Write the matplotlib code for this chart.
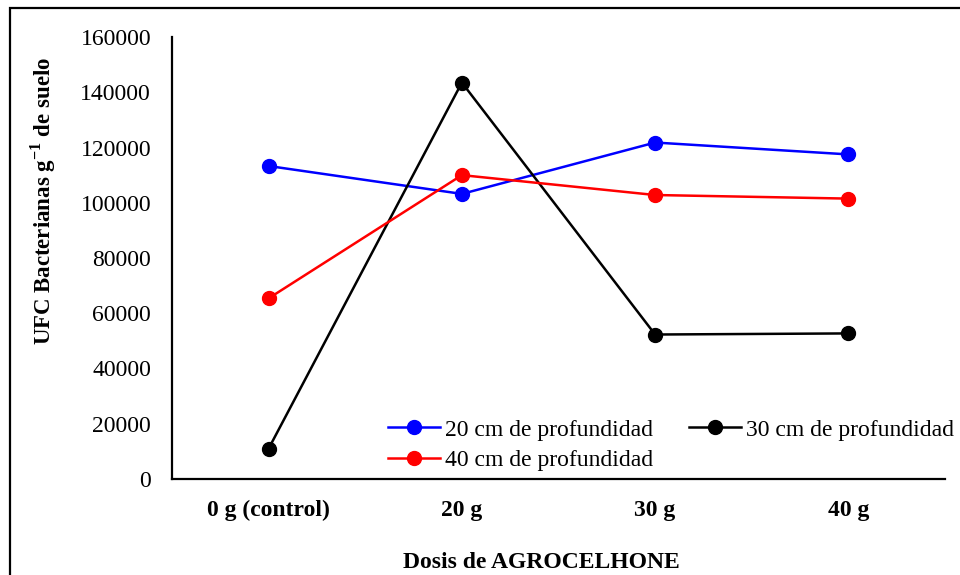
import numpy as np
import matplotlib
matplotlib.use("Agg")
import matplotlib.pyplot as plt

plt.rcParams['font.family'] = ['Liberation Serif', 'DejaVu Serif']
plt.rcParams['mathtext.fontset'] = 'custom'
plt.rcParams['mathtext.rm'] = 'Liberation Serif'
plt.rcParams['mathtext.bf'] = 'Liberation Serif:bold'

dosis = ["0 g (control)", "20 g", "30 g", "40 g"]
prof_20 = [113300, 103200, 121800, 117500]
prof_30 = [11000, 143500, 52300, 52700]
prof_40 = [65400, 110000, 102800, 101500]
y_ticks = [0, 20000, 40000, 60000, 80000, 100000, 120000, 140000, 160000]


def main():
    fig = plt.figure(figsize=(9.6, 5.75), dpi=100)
    ax = fig.add_axes([172/960, 1-479/575, (945-172)/960, (479-37)/575])

    x = np.arange(len(dosis))
    style = dict(marker="o", markersize=10, linewidth=1.8)
    l20, = ax.plot(x, prof_20, color="#0000ff", label="20 cm de profundidad", **style)
    l30, = ax.plot(x, prof_30, color="black", label="30 cm de profundidad", **style)
    l40, = ax.plot(x, prof_40, color="#ff0000", label="40 cm de profundidad", **style)

    ax.set_xlim(-0.5, len(dosis) - 0.5)
    ax.set_ylim(0, 160000)
    ax.set_yticks(y_ticks)
    ax.set_yticklabels([str(v) for v in y_ticks], fontsize=17)
    ax.set_xticks(x)
    ax.set_xticklabels(dosis, fontsize=17, fontweight="bold")
    ax.tick_params(axis="both", length=0)
    ax.tick_params(axis="y", pad=15)
    ax.tick_params(axis="x", pad=15)

    for s in ["top", "right"]:
        ax.spines[s].set_visible(False)
    for s in ["left", "bottom"]:
        ax.spines[s].set_linewidth(1.6)

    fig.text(43/960, 1-201/575, "UFC Bacterianas g$^{\\mathbf{-1}}$ de suelo",
             rotation=90, ha="center", va="center", fontsize=16.5, fontweight="bold")
    fig.text(541/960, 1-562/575, "Dosis de AGROCELHONE",
             ha="center", va="center", fontsize=17, fontweight="bold")

    fig.legend([l20, l40, l30], [l20.get_label(), l40.get_label(), l30.get_label()],
               ncol=2, frameon=False, fontsize=17, loc="upper left",
               bbox_to_anchor=(388/960, 1-419/575), handlelength=2.2,
               handletextpad=0.2, columnspacing=1.55, labelspacing=0.38,
               borderpad=0, borderaxespad=0)

    fig.add_artist(plt.Rectangle((10/960, -0.1), 1.0, 1.1 - 8/575,
                                 transform=fig.transFigure, fill=False,
                                 edgecolor="black", linewidth=1.6))

    fig.savefig("out.png", dpi=100, facecolor="white")


if __name__ == "__main__":
    main()
